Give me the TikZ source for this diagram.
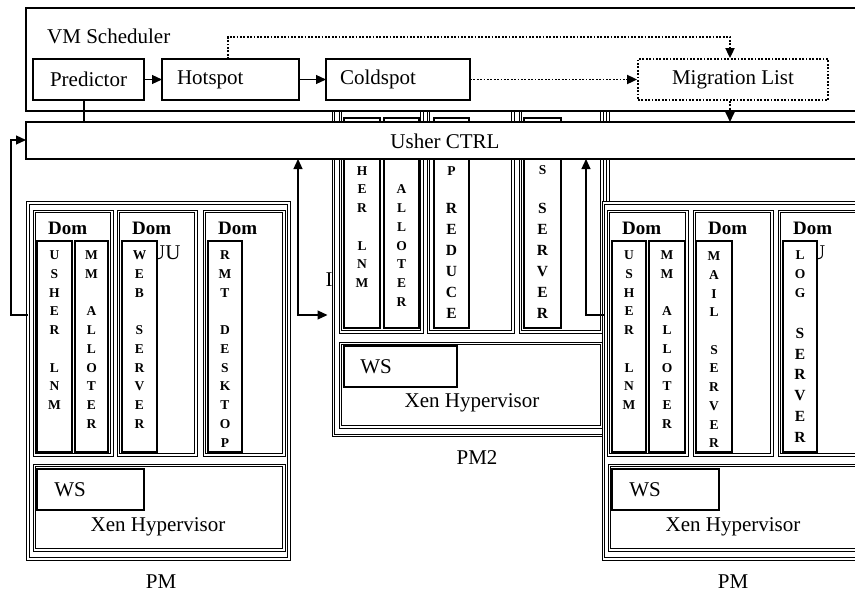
\documentclass[tikz,border=0pt]{standalone}
\usepackage{fontspec}
\setmainfont{Liberation Serif}
\usetikzlibrary{arrows.meta}

% letters of a word stacked downwards: x, first y, step, style, letters
\newcommand\vword[5]{%
  \foreach \ch [count=\k from 0] in {#5}{%
    \node[#4] at (#1,{#2+\k*#3}) {\ch};}}

% white box with a double border: x1, y1, x2, y2, gap
\newcommand\dblrect[5]{%
  \fill[white] (#1,#2) rectangle (#3,#4);
  \draw[thinln] (#1,#2) rectangle (#3,#4);
  \draw[thinln] ({#1+#5},{#2+#5}) rectangle ({#3-#5},{#4-#5});}

\tikzset{
  pmframe/.style={draw=black, line width=0.8pt, double=white, double distance=1.5pt,
    fill=white, inner sep=0pt, outer sep=0pt},
  thinln/.style={draw=black, line width=0.9pt},
  colbox/.style={draw=black, line width=1.3pt, fill=white},
  box/.style={draw=black, line width=1.2pt, fill=white, inner sep=0pt, outer sep=0pt},
  mainfont/.style={font=\fontsize{21}{24}\selectfont},
  lbl/.style={mainfont, inner sep=0pt},
  domlbl/.style={font=\bfseries\fontsize{19}{21}\selectfont, inner sep=0pt, anchor=west},
  vlet/.style={font=\bfseries\fontsize{13.5}{14}\selectfont, inner sep=0pt,
    text height=9pt, text depth=0pt},
  vletbig/.style={font=\bfseries\fontsize{15.5}{16}\selectfont, inner sep=0pt,
    text height=10.4pt, text depth=0pt},
  tip/.tip={Triangle[length=10pt,width=9pt]},
  arr/.style={line width=1.2pt, -tip},
  dotln/.style={line width=1.8pt, dash pattern=on 1.8pt off 1.6pt},
}

\begin{document}
\begin{tikzpicture}[x=1pt,y=-1pt]
\useasboundingbox (0,0) rectangle (855,592);
\clip (0,0) rectangle (855,592);
\fill[white] (0,0) rectangle (855,592);

% clipped piece of a label left of PM2
\node[lbl] at (329,280) {I};

% ---------------- PM2 (behind the scheduler and the controller)
\node[pmframe, minimum width=274.5pt, minimum height=355.5pt] (pm2) at (470.75,257.75) {};
\dblrect{339}{87}{423}{333}{2.2}
\dblrect{427}{87}{514}{333}{2.2}
\dblrect{519}{87}{603}{333}{2.2}
\draw[colbox] (344,118) rectangle (380,328);
\draw[colbox] (384,118) rectangle (419,328);
\draw[colbox] (434,118) rectangle (469,328);
\draw[colbox] (524,118) rectangle (561,328);
\vword{362}{170.5}{18.75}{vlet}{H,E,R}
\vword{362}{245.5}{18.75}{vlet}{L,N,M}
\vword{401.5}{189.25}{18.75}{vlet}{A,L,L,O,T,E,R}
\vword{451.5}{170.5}{18.75}{vlet}{P}
\vword{451.5}{208}{21}{vletbig}{R,E,D,U,C,E}
\vword{542.5}{170}{18.75}{vlet}{S}
\vword{542.5}{208}{21}{vletbig}{S,E,R,V,E,R}
\dblrect{339}{342}{603}{428}{2.2}
\draw[box] (344,346) rectangle (457,387);
\node[lbl] at (376,367) {WS};
\node[lbl] at (472,403) {Xen Hypervisor};
\node[lbl] (pm2lbl) at (477,458) {PM2};

% ---------------- VM scheduler
\draw[box] (26,8) rectangle (880,111);
\node[lbl, anchor=west] (vmsch) at (47,36) {VM Scheduler};
\node[box, mainfont, minimum width=111pt, minimum height=41pt] (pred) at (88.5,79.5) {Predictor};
\node[box, mainfont, minimum width=137pt, minimum height=41pt, inner xsep=15pt,
  text width=107pt, align=left] (hot) at (230.5,79.5) {Hotspot};
\node[box, mainfont, minimum width=144pt, minimum height=41pt, inner xsep=14pt,
  text width=116pt, align=left] (cold) at (398,79.5) {Coldspot};
\node[mainfont, draw=black, dotln, fill=white, inner sep=0pt, minimum width=190pt,
  minimum height=41pt] (mig) at (733,79.5) {Migration List};

% ---------------- Usher controller
\node[box, minimum width=854pt, minimum height=37pt] (usher) at (453,140.5) {};
\node[lbl] (usherlbl) at (445,141) {Usher CTRL};

% ---------------- left PM
\node[pmframe, minimum width=261pt, minimum height=356pt] (lpm) at (158.5,381) {};
\dblrect{33}{210}{113}{456}{2.2}
\dblrect{117}{210}{197}{456}{2.2}
\dblrect{203}{210}{285}{456}{2.2}
\node[domlbl] at (48,228) {Dom};
\node[domlbl] at (132,228) {Dom};
\node[domlbl] at (218,228) {Dom};
\node[lbl, anchor=west] at (150,253) {UU};
\draw[colbox] (37,241) rectangle (72,452);
\draw[colbox] (75,241) rectangle (108,452);
\draw[colbox] (122,241) rectangle (157,452);
\draw[colbox] (208,241) rectangle (242,452);
\vword{54.5}{255}{18.75}{vlet}{U,S,H,E,R}
\vword{54.5}{367.5}{18.75}{vlet}{L,N,M}
\vword{91.5}{255}{18.75}{vlet}{M,M}
\vword{91.5}{311.25}{18.75}{vlet}{A,L,L,O,T,E,R}
\vword{139.5}{255}{18.75}{vlet}{W,E,B}
\vword{139.5}{330}{18.75}{vlet}{S,E,R,V,E,R}
\vword{225}{255}{18.75}{vlet}{R,M,T}
\vword{225}{330}{18.75}{vlet}{D,E,S,K,T,O,P}
\dblrect{33}{464}{285}{551}{2.2}
\draw[box] (37,469) rectangle (144,510);
\node[lbl] at (70,490) {WS};
\node[lbl] at (158,527) {Xen Hypervisor};
\node[lbl] (lpmlbl) at (161,582) {PM};

% ---------------- right PM
\node[pmframe, minimum width=276.5pt, minimum height=356pt] (rpm) at (741.75,381) {};
\dblrect{607}{210}{688}{456}{2.2}
\dblrect{693}{210}{773}{456}{2.2}
\dblrect{778}{210}{862}{456}{2.2}
\node[domlbl] at (622,228) {Dom};
\node[domlbl] at (708,228) {Dom};
\node[domlbl] at (793,228) {Dom};
\node[lbl, anchor=west] at (810,253) {U};
\draw[colbox] (612,241) rectangle (646,452);
\draw[colbox] (649,241) rectangle (685,452);
\draw[colbox] (696,241) rectangle (732,452);
\draw[colbox] (783,241) rectangle (817,452);
\vword{629}{255}{18.75}{vlet}{U,S,H,E,R}
\vword{629}{367.5}{18.75}{vlet}{L,N,M}
\vword{667}{255}{18.75}{vlet}{M,M}
\vword{667}{311.25}{18.75}{vlet}{A,L,L,O,T,E,R}
\vword{714}{256}{18.75}{vlet}{M,A,I,L}
\vword{714}{349.5}{18.75}{vlet}{S,E,R,V,E,R}
\vword{800}{255}{18.75}{vlet}{L,O,G}
\vword{800}{333}{20.8}{vletbig}{S,E,R,V,E,R}
\dblrect{608}{464}{870}{551}{2.2}
\draw[box] (612,469) rectangle (719,510);
\node[lbl] at (645,490) {WS};
\node[lbl] at (733,527) {Xen Hypervisor};
\node[lbl] (rpmlbl) at (733,582) {PM};

% ---------------- connectors
\draw[arr] (pred) -- (hot);
\draw[arr] (hot) -- (cold);
\draw[dotln, -tip] (cold) -- (mig);
\draw[dotln, -tip] (hot.north -| 228,0) -- (228,37) -| (mig.north -| 730,0);
\draw[dotln, -tip] (mig.south -| 730,0) -- (usher.north -| 730,0);
\draw[line width=1.2pt] (pred.south -| 84,0) -- (usher.north -| 84,0);
\draw[arr] (lpm.west |- 0,315) -| (11,140) -- (usher.west |- 0,140);
\draw[line width=1.2pt, tip-tip, shorten >=6pt]
  (usher.south -| 298,0) -- (298,315) -- (pm2.west |- 0,315);
\draw[arr] (rpm.west |- 0,315) -| (usher.south -| 586,0);
\end{tikzpicture}
\end{document}
